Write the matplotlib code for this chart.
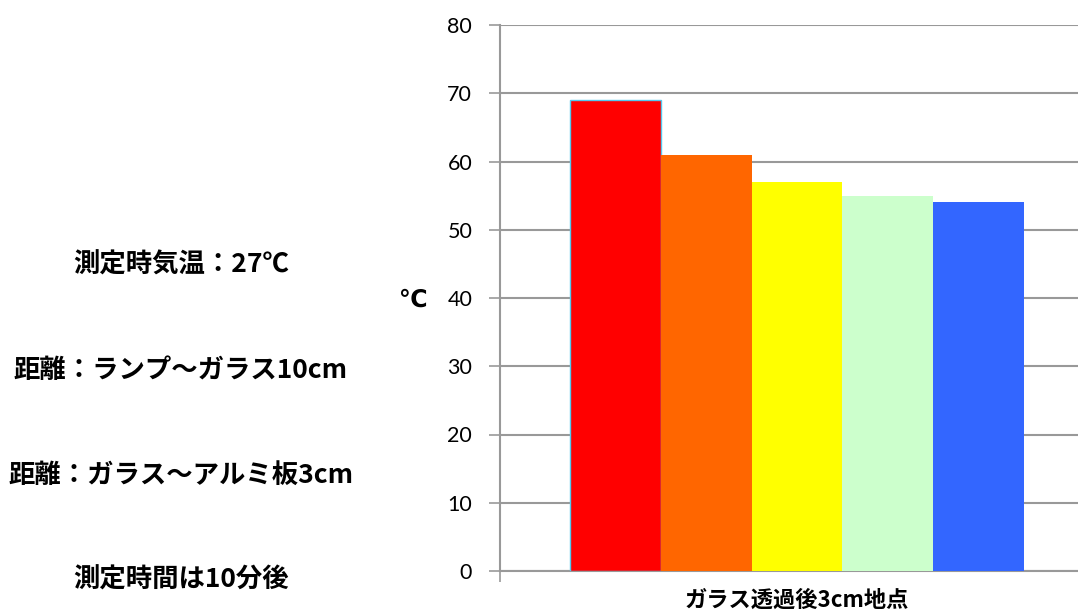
import matplotlib.pyplot as plt

plt.rcParams['font.family'] = ['Noto Sans CJK JP', 'DejaVu Sans']

# 測定結果（ガラス透過後3cm地点の温度）
series = ['赤', '橙', '黄', '緑', '青']
temps = [69, 61, 57, 55, 54]
colors = ['#FF0000', '#FF6600', '#FFFF00', '#CCFFCC', '#3366FF']
category = 'ガラス透過後3cm地点'
yticks = [0, 10, 20, 30, 40, 50, 60, 70, 80]

notes = ['測定時気温：27℃',
         '距離：ランプ～ガラス10cm',
         '距離：ガラス～アルミ板3cm',
         '測定時間は10分後']
note_y = [265, 371, 475, 580]

fig = plt.figure(figsize=(10.78, 6.14), dpi=100)
ax = fig.add_axes([500 / 1078, 43 / 614, 594 / 1078, 546 / 614])

pos = list(range(len(temps)))
bars = ax.bar(pos, temps, width=1.0, color=colors, zorder=3)
bars[0].set_edgecolor('#55C8EE')
bars[0].set_linewidth(1.0)

ax.set_ylim(0, 80)
ax.set_xlim(2 - 3.264, 2 + 3.264)
ax.set_yticks(yticks)
ax.yaxis.grid(True, color='#999999', linewidth=1.5, zorder=0)
ax.tick_params(axis='y', length=8, width=1.2, color='#999999',
               labelsize=15.5, pad=12)
for lab in ax.get_yticklabels():
    lab.set_family(['Lato', 'DejaVu Sans'])

ax.set_xticks([2], [category])
ax.tick_params(axis='x', which='major', length=0, pad=13, labelsize=16)
for lab in ax.get_xticklabels():
    lab.set_fontweight('bold')
ax.set_xticks([2 - 3.264], minor=True)
ax.tick_params(axis='x', which='minor', length=8, width=1.2, color='#999999')

for side in ['top', 'right']:
    ax.spines[side].set_visible(False)
for side in ['left', 'bottom']:
    ax.spines[side].set_color('#999999')
    ax.spines[side].set_linewidth(1.5)

fig.text(413 / 1078, 1 - 300 / 614, '℃', fontsize=17, fontweight='bold',
         ha='center', va='center', family=['DejaVu Sans'])

for txt, y in zip(notes, note_y):
    fig.text(181 / 1078, 1 - y / 614, txt, fontsize=19, fontweight='bold',
             ha='center', va='center')

fig.savefig('out.png', dpi=100)
